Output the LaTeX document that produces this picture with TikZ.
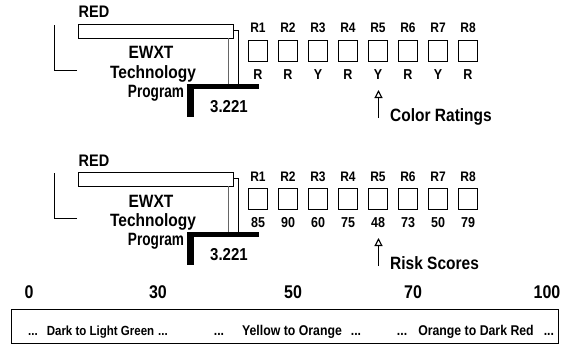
\documentclass[tikz,border=0pt]{standalone}
\usepackage{fontspec}
\setmainfont{Liberation Sans}
\usetikzlibrary{arrows.meta}
\newcommand\fsz[1]{\bfseries\fontsize{#1}{#1}\selectfont}
\newcommand\vs[1]{\scalebox{1}[1.15]{#1}}
\newcommand\vsx[2]{\scalebox{#1}[1.15]{#2}}
\tikzset{
  txt/.style={inner sep=0pt, anchor=base},
  rbox/.style={draw, line width=1.3pt, minimum width=19pt, minimum height=21pt, inner sep=0pt},
  thinline/.style={line width=0.8pt},
  greyline/.style={line width=0.8pt, black!60},
  arr/.style={line width=1.6pt, -{Triangle[open, length=8pt, width=8pt, line width=1.1pt]}},
}
\newcommand\riskpanel[4]{%
\begin{scope}[yshift=-#2pt]
  \node[txt, font=\fsz{14.5}] (#1red) at (94,18) {\vs{RED}};
  \draw[thinline] (78,24) rectangle (233,38);
  \draw[thinline] (233,30) -- (238,30) -- (238,84);
  \draw[greyline] (228,38) -- (228,84);
  \draw[thinline] (77,70) -- (54,70) -- (54,25);
  \node[txt, font=\fsz{15.5}] (#1ewxt) at (151,59) {\vs{EWXT}};
  \node[txt, font=\fsz{15.5}] (#1tech) at (153,78) {\vs{Technology}};
  \node[txt, font=\fsz{15.5}] (#1prog) at (156,97) {\vsx{0.88}{Program}};
  \fill (187,84) rectangle (259,88.5);
  \fill (187,84) rectangle (194,117);
  \node[txt, font=\fsz{15}] (#1num) at (229,112) {\vs{3.221}};
  \foreach \v [count=\i] in {#3} {
    \node[rbox] (#1b\i) at ({258+30*(\i-1)},51) {};
    \node[txt, font=\fsz{12}] (#1r\i) at ({258+30*(\i-1)},33) {\vs{R\i}};
    \node[txt, font=\fsz{12.5}] (#1v\i) at ({258+30*(\i-1)},79.5) {\vs{\v}};
  }
  \coordinate (#1tail) at (378.5,118);
  \coordinate (#1tip) at (378.5,90);
  \draw[arr] (#1tail) -- (#1tip);
  \node[txt, anchor=base west, font=\fsz{15.5}] (#1cap) at (390,121) {\vs{#4}};
\end{scope}}
\begin{document}
\begin{tikzpicture}[x=1pt, y=-1pt]
  \useasboundingbox (0,0) rectangle (562,345);
  \riskpanel{a}{0}{R,R,Y,R,Y,R,Y,R}{Color Ratings}
  \riskpanel{b}{148}{85,90,60,75,48,73,50,79}{Risk Scores}
  % scale
  \node[txt, font=\fsz{16}] (s0) at (29,298) {\vs{0}};
  \node[txt, font=\fsz{16}] (s30) at (158,298) {\vs{30}};
  \node[txt, font=\fsz{16}] (s50) at (293,298) {\vs{50}};
  \node[txt, font=\fsz{16}] (s70) at (413,298) {\vs{70}};
  \node[txt, font=\fsz{16}] (s100) at (547,298) {\vs{100}};
  \draw[thinline] (11,309) rectangle (558,343);
  \node[txt, font=\fsz{11.5}] (g1) at (98,335) {\vs{...\hspace{9pt}Dark to Light Green\hspace{4pt}...}};
  \node[txt, font=\fsz{12.3}] (g2) at (287.5,335) {\vs{...\hspace{18pt}Yellow to Orange\hspace{9pt}...}};
  \node[txt, font=\fsz{12.3}] (g3) at (475.5,335) {\vs{...\hspace{11pt}Orange to Dark Red\hspace{10pt}...}};
\end{tikzpicture}
\end{document}
